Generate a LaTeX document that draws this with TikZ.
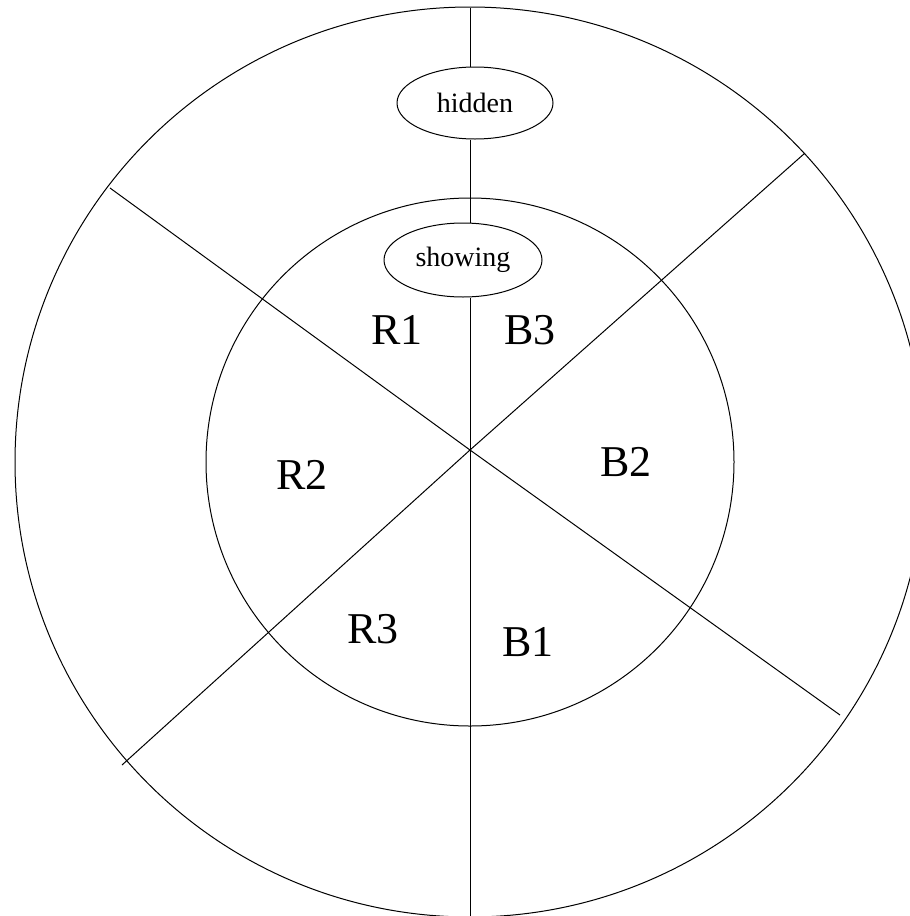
\documentclass[tikz,border=0pt]{standalone}
\usepackage{fontspec}
\setmainfont{Liberation Serif}
\usetikzlibrary{shapes.geometric}
\begin{document}
\begin{tikzpicture}[x=1pt,y=-1pt,line width=1pt,
  oval/.style={draw,ellipse,inner sep=0pt,fill=white,font=\fontsize{28}{30}\selectfont},
  lbl/.style={inner sep=0pt,font=\fontsize{44}{46}\selectfont}]
\useasboundingbox (0,0) rectangle (910,916);
\clip (0,0) rectangle (910,916);
\coordinate (o) at (470,462);
\coordinate (c) at (470,450);
\coordinate (top) at (470,8);
\coordinate (bot) at (470,917);
\coordinate (ul) at (110,188);
\coordinate (lr) at (840,715);
\coordinate (ur) at (805,153);
\coordinate (ll) at (122,765);
\draw (o) circle[radius=455];
\draw (o) circle[radius=264];
\draw (ul) -- (c) -- (lr);
\draw (ur) -- (c) -- (ll);
\node[oval,minimum width=156,minimum height=72] (hidden) at (475,103) {hidden};
\node[oval,minimum width=158,minimum height=74] (showing) at (463,260) {showing};
\draw (top) -- (top |- hidden.north);
\draw (top |- hidden.south) -- (top |- showing.north);
\draw (top |- showing.south) -- (bot);
\node[lbl] (r1) at (397,330) {R1};
\node[lbl] (b3) at (530,330) {B3};
\node[lbl] (r2) at (302,475) {R2};
\node[lbl] (b2) at (626,462) {B2};
\node[lbl] (r3) at (373,629) {R3};
\node[lbl] (b1) at (528,642) {B1};
\end{tikzpicture}
\end{document}
